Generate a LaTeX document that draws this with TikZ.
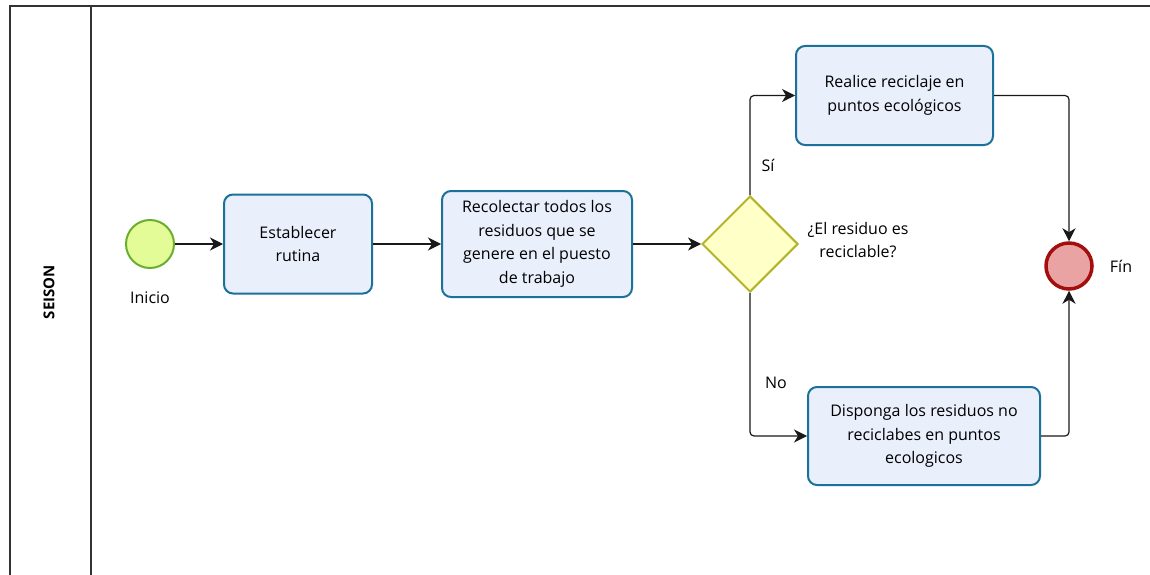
\documentclass[tikz,border=0pt]{standalone}
\usepackage{fontspec}
\setmainfont{Open Sans}
\usetikzlibrary{shapes.geometric,arrows.meta}
\definecolor{taskfill}{HTML}{EAEFFC}
\definecolor{taskdraw}{HTML}{1B7199}
\definecolor{startfill}{HTML}{E4FC98}
\definecolor{startdraw}{HTML}{6BAE2E}
\definecolor{gwfill}{HTML}{FFFFC8}
\definecolor{gwdraw}{HTML}{B3B42A}
\definecolor{endfill}{HTML}{E9A3A3}
\definecolor{enddraw}{HTML}{A30F0F}
\definecolor{lanedraw}{HTML}{333333}
\begin{document}
\begin{tikzpicture}[x=1pt,y=-1pt,
  font=\fontsize{16}{23.5}\selectfont,
  task/.style={draw=taskdraw,fill=taskfill,line width=2pt,rounded corners=9pt,align=center,inner sep=0pt},
  startev/.style={circle,draw=startdraw,fill=startfill,line width=2pt,minimum size=48pt,inner sep=0pt},
  endev/.style={circle,draw=enddraw,fill=endfill,line width=3.5pt,minimum size=46pt,inner sep=0pt},
  gw/.style={diamond,draw=gwdraw,fill=gwfill,line width=2pt,minimum width=96pt,minimum height=96pt,inner sep=0pt},
  flow/.style={draw=black!90,line width=1.2pt,-{Stealth[length=13pt,width=13pt,inset=4pt]},rounded corners=4pt},
  lbl/.style={inner sep=0pt,align=center}]
\useasboundingbox (0,0) rectangle (1150,575);
% lane
\draw[lanedraw,line width=2pt] (1150,6) -- (9.5,6) -- (9.5,575);
\draw[lanedraw,line width=2pt] (91,6) -- (91,575);
\node[lbl,rotate=90,font=\fontsize{15}{17}\selectfont\bfseries] (lane) at (49,292) {SEISON};
% nodes
\node[startev] (start) at (150,244) {};
\node[lbl] (inicio) at (150,298) {Inicio};
\node[task,minimum width=148pt,minimum height=99pt] (t1) at (298,244) {Establecer\\rutina};
\node[task,minimum width=190pt,minimum height=106pt] (t2) at (537,244) {Recolectar todos los\\residuos que se\\genere en el puesto\\de trabajo};
\node[gw] (g) at (750,244) {};
\node[lbl] (q) at (858,240) {¿El residuo es\\reciclable?};
\node[task,minimum width=197pt,minimum height=99pt] (t3) at (894.5,95.5) {Realice reciclaje en\\puntos ecológicos};
\node[task,minimum width=232pt,minimum height=98pt] (t4) at (924,436) {Disponga los residuos no\\reciclabes en puntos\\ecologicos};
\node[endev] (fin) at (1069,266) {};
\node[lbl] (finl) at (1121,266) {Fín};
\node[lbl] (si) at (768,165) {Sí};
\node[lbl] (no) at (776,383) {No};
% flows
\draw[flow] (start) -- (t1);
\draw[flow] (t1) -- (t2);
\draw[flow] (t2) -- (g.west);
\draw[flow] (g.north) |- (t3.west);
\draw[flow] (g.south) |- (t4.west);
\draw[flow] (t3.east) -| (fin.north);
\draw[flow] (t4.east) -| (fin.south);
\end{tikzpicture}
\end{document}
